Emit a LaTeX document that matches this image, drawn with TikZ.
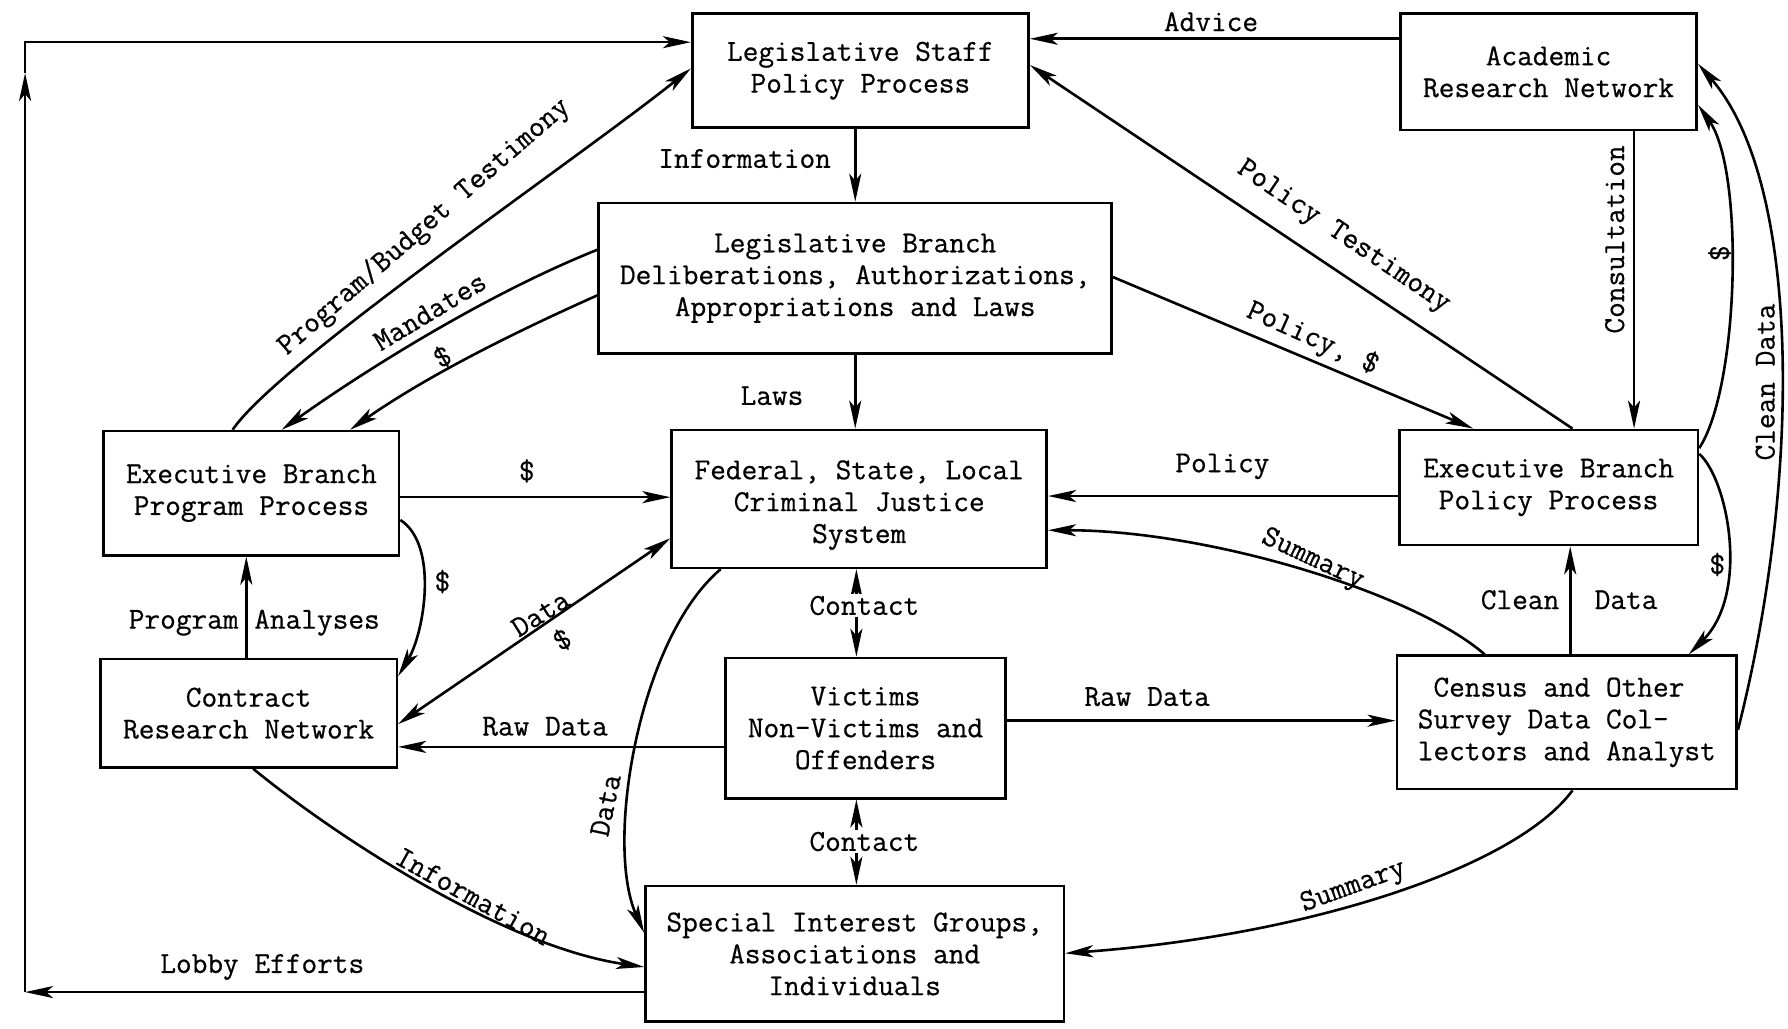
\documentclass[tikz,border=0pt]{standalone}
\usepackage{fontspec}
\setmonofont{Latin Modern Mono}[FakeBold=0.6]
\usetikzlibrary{arrows.meta}
\begin{document}
\begin{tikzpicture}[x=0.02cm,y=-0.02cm,
  font=\ttfamily\fontsize{15.2}{15.9}\selectfont,
  line width=1.3pt,
  box/.style={draw, line width=1.3pt, align=center, inner sep=0pt},
  tip/.tip={Stealth[length=14pt,width=6pt,inset=3.5pt]},
  arr/.style={-tip},
  arrb/.style={tip-tip},
  lbl/.style={inner sep=1pt}]
\useasboundingbox (0,0) rectangle (1568,902);

% boxes
\node[box, minimum width=5.90cm, minimum height=2.00cm] (ls) at (754.5,62) {Legislative Staff\\Policy Process};
\node[box, minimum width=5.20cm, minimum height=2.04cm] (ac) at (1358,63) {Academic\\Research Network};
\node[box, minimum width=9.00cm, minimum height=2.64cm] (lb) at (750,244) {Legislative Branch\\Deliberations, Authorizations,\\Appropriations and Laws};
\node[box, minimum width=5.18cm, minimum height=2.18cm] (ep) at (220.5,432.5) {Executive Branch\\Program Process};
\node[box, minimum width=6.58cm, minimum height=2.42cm] (cj) at (753.5,437.5) {\rule{0pt}{0.55cm}Federal, State, Local\\Criminal Justice\\System};
\node[box, minimum width=5.24cm, minimum height=2.02cm] (xp) at (1358,427.5) {Executive Branch\\Policy Process};
\node[box, minimum width=5.20cm, minimum height=1.90cm] (ct) at (218,625.5) {Contract\\Research Network};
\node[box, minimum width=4.92cm, minimum height=2.46cm] (vi) at (759,638.5) {Victims\\Non-Victims and\\Offenders};
\node[box, minimum width=5.96cm, minimum height=2.34cm, align=left] (ce) at (1374,633.5) {~Census and Other\\Survey Data Col-\\lectors and Analyst};
\node[box, minimum width=7.34cm, minimum height=2.38cm] (sp) at (749.5,836.5) {Special Interest Groups,\\Associations and\\Individuals};

% lobby efforts loop
\coordinate (lbl) at (22,870);
\coordinate (lmid) at (22,64);
\coordinate (ltl) at (22,37);
\draw[arr] (sp.west |- lbl) -- (lbl);
\draw[arr] (lbl) -- (lmid);
\draw[arr] (lmid) -- (ltl) -- (ls.west |- ltl);

% straight connectors
\draw[arr] (ac.west |- 0,34) -- (ls.east |- 0,34);
\draw[arr] (ls.south -| 750,0) -- (lb.north -| 750,0);
\draw[arr] (lb.south -| 750,0) -- (cj.north -| 750,0);
\draw[arr] (ep.east |- 0,436) -- (cj.west |- 0,436);
\draw[arr] (ct.north -| 216,0) -- (ep.south -| 216,0);
\draw[arrb] (ct.east |- 0,635) -- (cj.west |- 0,472);
\draw[arr] (vi.west |- 0,655) -- (ct.east |- 0,655);
\draw[arrb] (cj.south -| 751,0) -- (vi.north -| 751,0);
\draw[arrb] (vi.south -| 751,0) -- (sp.north -| 751,0);
\draw[arr] (vi.east |- 0,632) -- (ce.west |- 0,632);
\draw[arr] (xp.west |- 0,435) -- (cj.east |- 0,435);
\draw[arr] (ce.north -| 1377,0) -- (xp.south -| 1377,0);
\draw[arr] (xp.north -| 1379,0) -- (ls.east |- 0,57);
\draw[arr] (lb.east |- 0,243) -- (xp.north -| 1292,0);
\draw[arr] (ac.south -| 1433,0) -- (xp.north -| 1433,0);

% curved connectors
\draw[arr] (ep.north -| 204,0) .. controls (244,318) and (506,140) .. (ls.west |- 0,60);
\draw[arr] (lb.west |- 0,219) .. controls (424,259) and (317,327) .. (ep.north -| 247,0);
\draw[arr] (lb.west |- 0,259) .. controls (434,299) and (367,335) .. (ep.north -| 307,0);
\draw[arr] (ep.east |- 0,456) .. controls (385,478) and (372,555) .. (ct.east |- 0,593);
\draw[arr] (cj.south -| 632,0) .. controls (560,560) and (530,740) .. (sp.west |- 0,818);
\draw[arr] (ct.south -| 222,0) .. controls (290,730) and (440,830) .. (sp.west |- 0,848);
\draw[arr] (ce.north -| 1302,0) .. controls (1240,520) and (1060,465) .. (cj.east |- 0,465);
\draw[arr] (ce.south -| 1379,0) .. controls (1330,760) and (1150,820) .. (sp.east |- 0,836);
\draw[arr] (xp.east |- 0,393) .. controls (1525,340) and (1530,150) .. (ac.east |- 0,92);
\draw[arr] (ce.east |- 0,640) .. controls (1580,420) and (1580,160) .. (ac.east |- 0,56);
\draw[arr] (xp.east |- 0,398) .. controls (1515,420) and (1535,520) .. (ce.north -| 1481,0);

% labels
\node[lbl] (tAdvice) at (1062,19) {Advice};
\node[lbl] (tInfo) at (653,139) {Information};
\node[lbl] (tLaws) at (677,347) {Laws};
\node[lbl, rotate=41] (tPBT) at (372,199) {Program/Budget Testimony};
\node[lbl, rotate=31] (tMand) at (377,273) {Mandates};
\node[lbl, rotate=30] (tD1) at (388,313) {\$};
\node[lbl] (tD2) at (462,413) {\$};
\node[lbl] (tD3) at (388,510) {\$};
\node[lbl] (tPA) at (223,546) {Program Analyses};
\node[lbl, rotate=32] (tData1) at (474,538) {Data};
\node[lbl, rotate=32] (tD4) at (493,561) {\$};
\node[lbl] (tRaw1) at (478,637) {Raw Data};
\node[lbl, rotate=78] (tData2) at (531,706) {Data};
\node[lbl, rotate=-29] (tInfo2) at (415,786) {Information};
\node[lbl, fill=white] (tCont1) at (758,531) {Contact};
\node[lbl, fill=white] (tCont2) at (758,738) {Contact};
\node[lbl] (tRaw2) at (1006,611) {Raw Data};
\node[lbl] (tPol) at (1072,409) {Policy};
\node[lbl, rotate=-25] (tSum1) at (1151,491) {Summary};
\node[lbl] (tClean) at (1333,526) {Clean};
\node[lbl] (tCData) at (1426,526) {Data};
\node[lbl, rotate=20] (tSum2) at (1187,778) {Summary};
\node[lbl, rotate=-34] (tPT) at (1178,208) {Policy Testimony};
\node[lbl, rotate=-24] (tPolD) at (1151,297) {Policy, \$};
\node[lbl, rotate=90] (tCons) at (1416,210) {Consultation};
\node[lbl, rotate=90] (tD5) at (1508,222) {\$};
\node[lbl, rotate=90] (tCD) at (1548,335) {Clean Data};
\node[lbl] (tD6) at (1506,495) {\$};
\node[lbl] (tLobby) at (230,848) {Lobby Efforts};
\end{tikzpicture}
\end{document}
